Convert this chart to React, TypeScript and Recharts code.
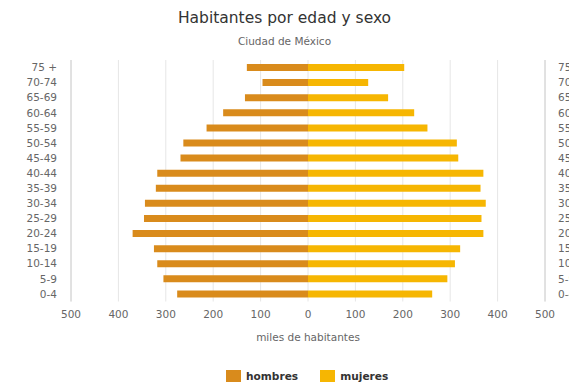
import React from "react";
import {
  Bar,
  BarChart,
  CartesianGrid,
  Legend,
  XAxis,
  YAxis,
} from "recharts";

const ageGroups = [
  "0-4", "5-9", "10-14", "15-19", "20-24", "25-29", "30-34", "35-39",
  "40-44", "45-49", "50-54", "55-59", "60-64", "65-69", "70-74", "75 +",
];
const hombres = [276, 305, 318, 325, 370, 346, 344, 321, 318, 269, 263, 214, 179, 133, 96, 129];
const mujeres = [262, 294, 310, 321, 370, 366, 375, 364, 370, 317, 314, 252, 224, 169, 127, 203];
const xTicks = [-500, -400, -300, -200, -100, 0, 100, 200, 300, 400, 500];

const MEN = "#d98b1c";
const WOMEN = "#f6b602";
const FONT = "'DejaVu Sans', sans-serif";

const data = ageGroups.map((age, i) => ({
  age,
  hombres: -hombres[i],
  mujeres: mujeres[i],
}));

// plain <text> so the right-hand labels don't wrap inside the narrow axis
function AgeTick(props: any) {
  const { x, y, payload, textAnchor } = props;
  return (
    <text
      x={x}
      y={y}
      dy="0.355em"
      textAnchor={textAnchor}
      fontSize={10.5}
      fill="#666"
      fontFamily={FONT}
    >
      {payload.value}
    </text>
  );
}

function LegendBox() {
  const items = [
    { name: "hombres", color: MEN },
    { name: "mujeres", color: WOMEN },
  ];
  return (
    <div
      style={{
        display: "flex",
        alignItems: "center",
        height: 18,
        paddingLeft: 226,
        fontFamily: FONT,
        fontSize: 10.6,
        fontWeight: "bold",
        color: "#333",
      }}
    >
      {items.map((it) => (
        <div key={it.name} style={{ display: "flex", alignItems: "center", marginRight: 22 }}>
          <span style={{ width: 15, height: 12, background: it.color, marginRight: 5 }} />
          <span>{it.name}</span>
        </div>
      ))}
    </div>
  );
}

export default function App() {
  const tickStyle = { fontSize: 10.5, fill: "#666", fontFamily: FONT };
  return (
    <div style={{ position: "absolute", left: 0, top: 0, width: 569, height: 385, background: "#fff" }}>
      <div
        style={{
          position: "absolute",
          top: 8,
          left: 0,
          width: 569,
          textAlign: "center",
          fontFamily: FONT,
          fontSize: 15.5,
          color: "#333",
          lineHeight: "20px",
        }}
      >
        Habitantes por edad y sexo
      </div>
      <div
        style={{
          position: "absolute",
          top: 34,
          left: 0,
          width: 569,
          textAlign: "center",
          fontFamily: FONT,
          fontSize: 10.5,
          color: "#666",
          lineHeight: "14px",
        }}
      >
        Ciudad de México
      </div>
      <BarChart
        width={569}
        height={385}
        data={data}
        layout="vertical"
        stackOffset="sign"
        barSize={7}
        margin={{ top: 60, right: 0, bottom: 0, left: 0 }}
      >
        <CartesianGrid horizontal={false} stroke="#e6e6e6" />
        <XAxis
          type="number"
          domain={[-500, 500]}
          ticks={xTicks}
          tickFormatter={(v) => `${Math.abs(v)}`}
          axisLine={false}
          tickLine={false}
          tickSize={0}
          tickMargin={9}
          height={65.5}
          tick={tickStyle}
          label={{
            value: "miles de habitantes",
            position: "insideBottom",
            offset: 26,
            style: { fontSize: 10.5, fill: "#666", fontFamily: FONT },
          }}
        />
        <YAxis
          type="category"
          dataKey="age"
          reversed
          width={71}
          axisLine={{ stroke: "#d0d0d0" }}
          tickLine={false}
          tickSize={0}
          tickMargin={14}
          interval={0}
          tick={<AgeTick />}
        />
        <YAxis
          yAxisId="right"
          type="category"
          dataKey="age"
          orientation="right"
          reversed
          width={24}
          axisLine={{ stroke: "#d0d0d0" }}
          tickLine={false}
          tickSize={0}
          tickMargin={13}
          interval={0}
          tick={<AgeTick />}
        />
        <Legend verticalAlign="bottom" content={() => <LegendBox />} wrapperStyle={{ left: 0, width: 569, height: 18 }} />
        <Bar dataKey="hombres" stackId="a" fill={MEN} isAnimationActive={false} />
        <Bar dataKey="mujeres" stackId="a" fill={WOMEN} isAnimationActive={false} />
      </BarChart>
    </div>
  );
}
